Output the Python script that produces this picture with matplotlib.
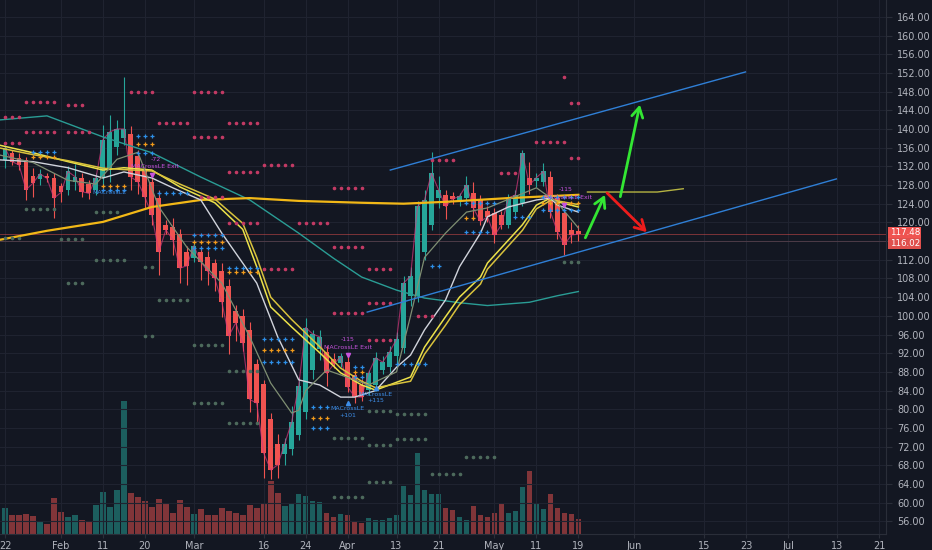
import numpy as np
import pandas as pd
import matplotlib
matplotlib.use("Agg")
import matplotlib.pyplot as plt
import matplotlib.transforms as mtransforms
from matplotlib.ticker import FuncFormatter

BG = "#131722"
GRID = "#1f2330"
AXIS_LINE = "#2a2e39"
TXT = "#b2b5be"
UP = "#26a69a"
DOWN = "#ef5350"

# --- trading calendar (daily bars, 2020) ---
holidays = ["2020-02-17", "2020-04-10", "2020-05-25", "2020-07-03"]
days = pd.bdate_range("2020-01-22", "2020-07-31", freq="C", holidays=holidays)

tick_dates = ["2020-01-22", "2020-02-03", "2020-02-11", "2020-02-20", "2020-03-02",
              "2020-03-16", "2020-03-24", "2020-04-01", "2020-04-13", "2020-04-21",
              "2020-05-01", "2020-05-11", "2020-05-19", "2020-06-01", "2020-06-15",
              "2020-06-23", "2020-07-01", "2020-07-13", "2020-07-21"]
tick_labels = ["22", "Feb", "11", "20", "Mar", "16", "24", "Apr", "13", "21",
               "May", "11", "19", "Jun", "15", "23", "Jul", "13", "21"]

# --- OHLC, Jan 22 .. May 19 ---
opens = [133.4, 134.8, 133.7, 133.4, 130.0, 129.2, 129.9, 129.5, 127.7, 127.0,
         128.7, 129.5, 128.2, 127.0, 129.5, 131.2, 136.2, 138.0, 138.9, 134.3,
         130.9, 128.7, 125.2, 119.5, 119.0, 117.5, 113.7, 112.3, 113.7, 112.5,
         111.3, 109.7, 106.4, 101.0, 100.0, 97.0, 89.6, 85.4, 77.9, 72.6,
         70.4, 71.4, 74.5, 79.5, 88.4, 93.0, 92.3, 90.8, 90.0, 90.2,
         87.3, 85.2, 84.1, 85.2, 88.4, 89.1, 91.3, 93.1, 104.3, 104.3,
         113.7, 119.5, 125.2, 125.9, 125.6, 124.8, 125.2, 126.2, 124.8, 122.5,
         122.0, 121.6, 119.5, 122.3, 124.1, 129.5, 128.9, 128.7, 129.8, 125.2,
         122.0, 118.4, 118.2]
highs = [136.6, 135.5, 134.8, 134.1, 131.7, 131.4, 130.6, 130.6, 128.5, 132.1,
         132.6, 130.5, 129.0, 130.5, 140.9, 143.0, 141.9, 151.2, 140.6, 135.5,
         131.7, 130.0, 127.0, 120.5, 121.0, 118.5, 115.0, 116.2, 115.0, 113.8,
         112.2, 111.2, 107.8, 102.3, 101.4, 98.6, 90.8, 86.2, 79.1, 74.8,
         73.8, 80.8, 87.0, 99.5, 97.0, 97.0, 93.5, 92.0, 92.0, 91.6,
         88.0, 86.5, 88.5, 92.3, 91.5, 93.5, 96.5, 108.6, 110.5, 124.5,
         127.0, 135.0, 130.0, 127.0, 126.5, 126.2, 130.0, 128.6, 125.8, 123.5,
         123.0, 122.5, 126.0, 127.0, 135.5, 133.0, 130.5, 132.7, 131.0, 126.0,
         122.5, 120.0, 119.5]
lows = [131.7, 132.3, 131.3, 124.8, 125.5, 128.0, 128.6, 121.0, 124.4, 125.9,
        127.0, 125.5, 125.0, 125.8, 127.6, 128.7, 134.4, 136.5, 127.0, 126.0,
        123.0, 119.5, 108.8, 117.5, 113.0, 107.0, 106.5, 111.6, 107.6, 106.5,
        105.4, 99.7, 91.8, 94.6, 92.5, 79.5, 77.0, 65.2, 65.0, 65.3,
        68.1, 70.2, 73.5, 78.0, 86.5, 90.5, 85.0, 88.8, 89.0, 83.6,
        81.4, 81.8, 83.0, 84.0, 87.5, 88.0, 90.0, 92.0, 102.0, 103.0,
        112.0, 118.4, 123.0, 120.8, 124.0, 123.5, 124.0, 120.6, 119.5, 120.0,
        115.6, 118.5, 118.8, 121.5, 123.5, 126.0, 127.5, 127.8, 121.0, 116.5,
        113.0, 115.6, 116.0]
closes = [135.9, 133.0, 132.3, 127.0, 128.4, 130.4, 129.4, 125.2, 126.4, 130.9,
          129.8, 126.6, 126.2, 129.5, 137.7, 139.4, 140.0, 140.0, 129.7, 128.7,
          125.4, 121.6, 113.7, 118.4, 116.3, 110.2, 110.7, 115.0, 111.6, 109.5,
          108.0, 103.0, 95.7, 98.5, 94.1, 82.1, 81.3, 70.6, 67.0, 68.1,
          72.6, 77.3, 85.0, 97.5, 96.1, 95.5, 87.7, 89.6, 91.3, 84.8,
          82.7, 82.6, 87.8, 91.0, 90.1, 92.3, 95.0, 107.0, 108.5, 123.4,
          124.8, 130.5, 127.0, 123.4, 125.0, 125.6, 128.0, 123.0, 120.2, 121.2,
          117.2, 119.5, 125.2, 125.9, 134.8, 128.0, 129.6, 130.9, 122.3, 118.0,
          115.2, 117.3, 117.48]
volume = [25.7, 19, 19, 20, 17.7, 12.3, 10, 36, 21.7, 16.7,
          19, 14, 12, 29, 42.3, 27.3, 44, 133.3, 41, 36.7,
          33, 26.7, 35, 31, 21, 34, 27, 20, 25, 19.3,
          19.3, 25.7, 22.7, 21, 19, 29.3, 26, 31, 53, 41.3,
          28.3, 29.7, 40, 37.7, 33.3, 32.3, 21, 17.3, 20, 19,
          11.7, 10.7, 15.7, 14, 14.3, 15.7, 19, 48.3, 39, 81,
          44, 40, 40, 26.3, 24.3, 16.7, 14.3, 27.7, 19.3, 17.3,
          20.7, 30.7, 21, 22.7, 47, 63, 31, 25, 39.7, 26,
          20.7, 20, 15]

# --- moving averages (bar index, price) ---
teal_x = [-1, 6, 14, 21, 28, 35, 42, 47, 51, 56, 60, 65, 69, 75, 79, 82]
teal_y = [141.9, 142.8, 138.3, 134.9, 129.7, 124.8, 117.7, 112.3, 108.3, 105.5,
          103.8, 102.8, 102.2, 102.9, 104.3, 105.2]
gold_x = [-1, 6, 14, 21, 28, 35, 42, 51, 57, 63, 72, 82]
gold_y = [116.2, 118.2, 120.1, 123.3, 124.8, 125.2, 124.6, 124.2, 124.0, 124.4, 125.2, 125.9]
yel_x = [-1, 4, 9, 14, 17, 21, 25, 30, 34, 36, 38, 41, 45, 48, 51, 53,
         58, 60, 63, 65, 68, 69, 74, 76, 78, 79, 82]
yel1_y = [136.6, 134.9, 133.0, 131.2, 131.7, 131.2, 127.6, 124.2, 118.5, 110.5,
          101.9, 97.6, 92.1, 87.8, 85.2, 84.1, 86.9, 93.3, 99.8, 104.0,
          108.3, 111.3, 119.5, 123.7, 125.2, 124.4, 123.3]
yel2_y = [136.0, 134.5, 133.2, 131.6, 131.3, 131.0, 128.2, 125.0, 119.8, 112.5,
          104.0, 99.2, 93.4, 88.8, 86.0, 84.6, 86.0, 91.8, 98.0, 102.4,
          106.8, 110.0, 118.3, 122.9, 124.7, 124.6, 123.8]
white_x = [-1, 4, 9, 14, 17, 21, 24, 28, 31, 36, 39, 42, 45, 48, 50, 53,
           56, 58, 60, 63, 65, 68, 69, 72, 76, 78, 79, 82]
white_y = [133.4, 133.0, 131.7, 129.5, 130.8, 129.5, 127.4, 124.8, 117.7, 107.0,
           95.5, 86.3, 85.2, 82.6, 82.6, 84.0, 89.0, 91.6, 97.0, 103.4,
           110.5, 117.7, 121.2, 123.3, 124.8, 125.2, 123.7, 122.2]
olive_x = [-1, 4, 9, 13, 16, 19, 22, 26, 31, 35, 38, 41, 42, 43, 46, 50,
           52, 56, 58, 60, 63, 66, 69, 76, 79, 82]
olive_y = [134.5, 132.8, 129.0, 128.2, 133.5, 135.0, 123.3, 114.7, 107.0, 95.5,
           85.6, 79.2, 79.8, 84.0, 88.4, 86.3, 85.2, 88.0, 100.0, 112.5,
           117.7, 122.2, 123.1, 127.4, 124.2, 118.8]

# --- pivot dot rows: (first bar, count, price) ---
pink_rows = [(0, 3, 142.6), (3, 5, 145.8), (9, 3, 145.2), (3, 5, 139.4), (9, 4, 139.4),
             (0, 3, 137.0), (18, 4, 147.9), (27, 5, 147.9), (22, 5, 141.3), (32, 5, 141.3),
             (27, 5, 138.3), (32, 5, 130.8), (37, 5, 132.3), (28, 4, 125.5), (32, 5, 119.9),
             (37, 5, 110.0), (47, 5, 127.4), (42, 5, 119.9), (47, 5, 114.7), (52, 4, 110.0),
             (52, 4, 102.8), (47, 5, 100.6), (59, 3, 100.0), (52, 4, 94.8), (61, 4, 133.4),
             (71, 3, 130.6), (76, 5, 137.2), (81, 2, 133.8), (80, 1, 151.2), (81, 2, 145.6)]
gray_rows = [(3, 5, 122.9), (13, 4, 122.2), (0, 3, 116.7), (8, 4, 116.5), (13, 5, 112.0),
             (9, 3, 107.0), (20, 2, 110.5), (22, 5, 103.4), (20, 2, 95.7), (27, 5, 93.8),
             (32, 5, 88.2), (27, 5, 81.3), (32, 5, 77.1), (47, 5, 73.8), (52, 4, 72.4),
             (56, 5, 73.6), (56, 5, 79.0), (52, 4, 79.6), (66, 5, 69.8), (61, 5, 66.1),
             (52, 4, 64.4), (47, 5, 61.2), (80, 3, 111.5)]
blue_rows = [(4, 4, 135.1), (14, 4, 127.0), (19, 3, 138.5), (19, 3, 134.9), (22, 5, 126.3),
             (27, 5, 117.3), (27, 5, 114.5), (32, 5, 110.3), (37, 5, 95.1), (37, 5, 90.1),
             (50, 2, 89.1), (50, 2, 86.9), (44, 3, 80.5), (44, 3, 76.0), (56, 5, 89.7),
             (61, 2, 110.7), (66, 5, 124.2), (66, 4, 118.0), (73, 3, 121.2), (77, 6, 125.5),
             (77, 6, 122.7)]
orange_rows = [(4, 4, 134.0), (14, 4, 127.8), (19, 3, 136.8), (27, 5, 115.8), (32, 5, 109.4),
               (37, 5, 92.7), (50, 2, 88.0), (44, 3, 78.1), (66, 2, 121.0), (77, 6, 124.2)]

# --- strategy labels: (bar, price, text, kind) ---
labels = [(21.5, 133.4, "-72", "exit"), (21.5, 131.9, "MACrossLE Exit", "exit"),
          (15.0, 126.3, "MACrossLE", "entry"),
          (49.0, 94.9, "-115", "exit"), (49.0, 93.3, "MACrossLE Exit", "exit"),
          (49.0, 80.1, "MACrossLE", "entry"), (49.0, 78.6, "+101", "entry"),
          (53.0, 83.2, "MACrossLE", "entry"), (53.0, 81.8, "+115", "entry"),
          (80.2, 127.0, "-115", "exit"), (80.5, 125.3, "MACrossLE Exit", "exit")]
exit_marks_x = [21, 49, 80]
exit_marks_y = [130.2, 91.6, 123.7]
entry_marks_x = [49, 53]
entry_marks_y = [81.3, 84.6]

# --- drawings ---
channel_upper = ([55.1, 105.9], [131.2, 152.2])
channel_lower = ([51.8, 118.9], [100.8, 129.3])
level_line = ([83.3, 93.3, 97.0], [126.5, 126.5, 127.2])
arrows = [((83.0, 116.7), (85.8, 125.9), "#33e633"),
          ((86.1, 126.3), (91.8, 117.9), "#ee1c1c"),
          ((88.0, 125.5), (90.8, 145.2), "#33e633")]
last_price = 117.48
second_price = 116.02

# --- figure ---
fig = plt.figure(figsize=(9.32, 5.5), dpi=100, facecolor=BG)
rect = [0.0, 16 / 550, 886 / 932, 534 / 550]
xlim = (-0.72, 126.0)
ylim = (53.3, 167.6)

vax = fig.add_axes(rect)
vax.set_facecolor(BG)
ax = fig.add_axes(rect, facecolor="none")

o = np.array(opens)
h = np.array(highs)
l = np.array(lows)
c = np.array(closes)
idx = np.arange(len(c))
up = c >= o
colors = np.where(up, UP, DOWN)

# volume
vax.bar(idx, volume, width=0.8, color=colors, alpha=0.5, linewidth=0)
vax.set_xlim(*xlim)
vax.set_ylim(0, 534)
vax.set_xticks([])
vax.set_yticks([])
for s in vax.spines.values():
    s.set_visible(False)

# grid / axes
tick_pos = days.get_indexer(pd.to_datetime(tick_dates))
ax.set_xlim(*xlim)
ax.set_ylim(*ylim)
ax.set_xticks(tick_pos)
ax.set_xticklabels(tick_labels)
ax.set_yticks(np.arange(56, 165, 4))
# 116 sits under the price tags on the scale
ax.yaxis.set_major_formatter(FuncFormatter(lambda v, _: "" if abs(v - 116) < 0.01 else f"{v:.2f}"))
ax.yaxis.tick_right()
ax.grid(True, color=GRID, linewidth=0.8)
ax.set_axisbelow(True)
ax.tick_params(axis="y", length=4, color=AXIS_LINE, labelcolor=TXT, labelsize=7, pad=4)
ax.tick_params(axis="x", length=3, color=AXIS_LINE, labelcolor=TXT, labelsize=7, pad=2)
for side in ["top", "left"]:
    ax.spines[side].set_visible(False)
for side in ["right", "bottom"]:
    ax.spines[side].set_color(AXIS_LINE)

# candles
ax.vlines(idx, l, h, colors=colors, linewidth=0.8, zorder=3)
body = c - o
body = np.where(np.abs(body) < 0.25, np.where(up, 0.25, -0.25), body)
ax.bar(idx, body, bottom=o, width=0.7, color=colors, linewidth=0, zorder=4)
ax.plot(idx, c, color="#d6377c", linewidth=0.8, alpha=0.7, zorder=5)

# moving averages
ax.plot(teal_x, teal_y, color="#2a9d95", linewidth=1.0, zorder=6)
ax.plot(gold_x, gold_y, color="#f2b817", linewidth=1.6, zorder=6)
ax.plot(yel_x, yel1_y, color="#ece24a", linewidth=1.1, zorder=6)
ax.plot(yel_x, yel2_y, color="#d8c23c", linewidth=1.1, zorder=6)
ax.plot(white_x, white_y, color="#d1d4dc", linewidth=1.0, zorder=6)
ax.plot(olive_x, olive_y, color="#7f8f73", linewidth=0.9, zorder=6)


def dot_row(rows, **kw):
    for start, count, price in rows:
        xs = np.arange(start, start + count)
        ax.plot(xs, np.full(count, price), linestyle="none", zorder=7, **kw)


dot_row(pink_rows, marker="o", markersize=1.6, color="#c23a64")
dot_row(gray_rows, marker="o", markersize=1.6, color="#4d6a5c")
dot_row(blue_rows, marker="+", markersize=3.5, markeredgewidth=0.9, color="#2d8fe8")
dot_row(orange_rows, marker="+", markersize=3.5, markeredgewidth=0.9, color="#f29a1a")

# strategy labels
for bx, py, text, kind in labels:
    col = "#c653dd" if kind == "exit" else "#3d8ee8"
    ax.text(bx, py, text, color=col, fontsize=4.5, ha="center", va="center", zorder=9)
ax.plot(exit_marks_x, exit_marks_y, "v", color="#c653dd", markersize=3, zorder=9)
ax.plot(entry_marks_x, entry_marks_y, "^", color="#3d8ee8", markersize=3, zorder=9)

# drawings
ax.plot(*channel_upper, color="#2f7fd6", linewidth=1.0, zorder=8)
ax.plot(*channel_lower, color="#2f7fd6", linewidth=1.0, zorder=8)
ax.plot(*level_line, color="#b5b342", linewidth=1.0, zorder=8)
for start, tip, col in arrows:
    ax.annotate("", xy=tip, xytext=start, zorder=10,
                arrowprops=dict(arrowstyle="->,head_length=0.7,head_width=0.4",
                                color=col, linewidth=2.0, shrinkA=0, shrinkB=0))

# price lines + tags on the scale (tags nudged apart so they stack like the original)
ax.axhline(last_price, color=DOWN, linewidth=0.6, alpha=0.55, zorder=2)
ax.axhline(second_price, color="#8a5a66", linewidth=0.5, alpha=0.6, zorder=2)
trans = mtransforms.blended_transform_factory(ax.transAxes, ax.transData)
for price, tag_y, fc in [(second_price, 115.55, "#e0504d"), (last_price, 117.9, DOWN)]:
    ax.text(1.004, tag_y, f"{price:.2f}", transform=trans, ha="left", va="center",
            fontsize=6.3, color="white", clip_on=False, zorder=20,
            bbox=dict(boxstyle="square,pad=0.12", fc=fc, ec="none"))

fig.savefig("out.png", dpi=100, facecolor=BG)
